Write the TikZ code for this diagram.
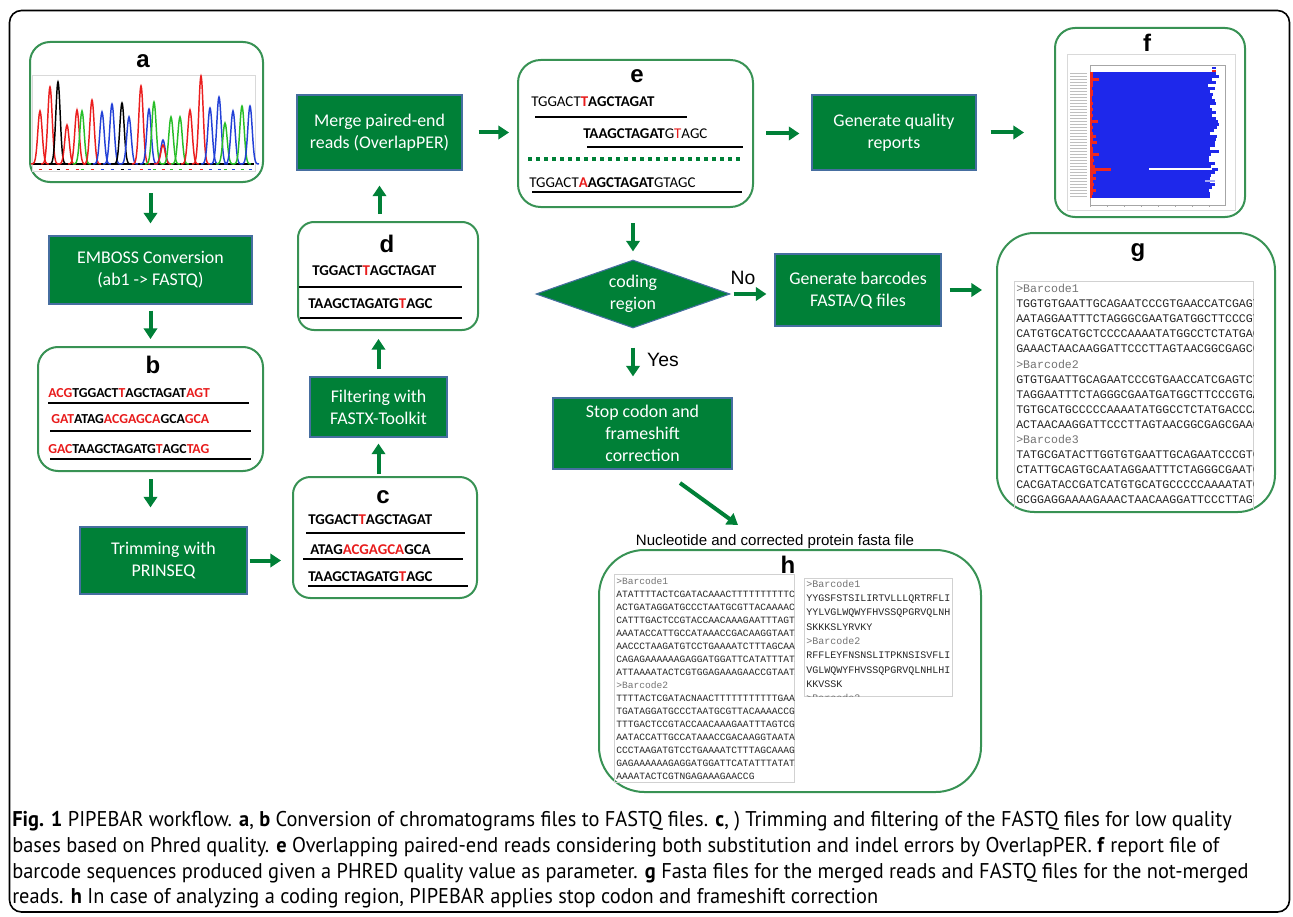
\documentclass[tikz,border=0pt]{standalone}
\usepackage{fontspec}
\setmainfont{Carlito}
\newfontfamily\arialf{Liberation Sans}
\newfontfamily\monof{Liberation Mono}
\newfontfamily\capf[FakeStretch=0.955]{PT Sans}
\usepackage{tikz}
\usetikzlibrary{positioning,arrows.meta,shapes.geometric}

\definecolor{pgreen}{RGB}{56,146,84}
\definecolor{boxgreen}{RGB}{0,128,55}
\definecolor{boxedge}{RGB}{70,110,160}
\definecolor{arrowgreen}{RGB}{0,128,55}
\definecolor{sred}{RGB}{232,28,28}
\definecolor{cred}{RGB}{235,30,30}
\definecolor{cgreen}{RGB}{40,190,40}
\definecolor{cblue}{RGB}{35,65,215}
\definecolor{fblue}{RGB}{30,40,235}
\definecolor{fred}{RGB}{240,40,30}

\newcommand{\rd}[1]{\textcolor{sred}{#1}}
\newcommand{\hd}[1]{\textcolor{black!55}{#1}}

\tikzset{
    panel/.style={draw=pgreen, line width=1.5pt, rounded corners=15pt, inner sep=0pt},
    stepbox/.style={draw=boxedge, line width=0.8pt, fill=boxgreen, text=white, align=center,
        inner sep=0pt, font=\fontsize{13.4}{16.5}\selectfont},
    decide/.style={diamond, draw=boxedge, line width=0.8pt, fill=boxgreen, text=white, align=center,
        inner sep=0pt, aspect=2.85, font=\fontsize{13.4}{16.5}\selectfont},
    flow/.style={draw=arrowgreen, line width=3pt, -{Triangle[width=10pt,length=8pt]}},
    lbl/.style={font=\arialf\bfseries\fontsize{18}{18}\selectfont, inner sep=0pt, anchor=base},
    seq/.style={inner sep=0pt, anchor=base west, font=\bfseries\fontsize{11.2}{12}\selectfont},
    uline/.style={line width=2.2pt},
    mono/.style={inner sep=0pt, anchor=base west, text=black!85},
    txtbox/.style={draw=black!18, line width=0.6pt},
    capline/.style={inner sep=0pt, anchor=base west, font=\capf\fontsize{16}{18}\selectfont},
    note/.style={inner sep=0pt, font=\arialf\fontsize{14.5}{16}\selectfont}
}

\begin{document}
\begin{tikzpicture}[x=0.75pt, y=-0.75pt]
    \useasboundingbox (0,0) rectangle (1293,917);
    \draw[line width=1.2pt, rounded corners=9pt] (9.5,10.5) rectangle (1289.5,912);

    % panels
    \node[panel, minimum width=174.75pt, minimum height=105pt] (pa) at (146.5,112) {};
    \node[panel, minimum width=168.75pt, minimum height=93pt] (pb) at (150.5,409) {};
    \node[panel, minimum width=138pt, minimum height=90.75pt, rounded corners=13pt] (pc) at (385,537.5) {};
    \node[panel, minimum width=135pt, minimum height=81pt, rounded corners=12pt] (pd) at (388,276) {};
    \node[panel, minimum width=176.25pt, minimum height=110.25pt, rounded corners=17pt] (pe) at (635.5,133.5) {};
    \node[panel, minimum width=142.5pt, minimum height=141.75pt] (pf) at (1150,122.5) {};
    \node[panel, minimum width=208.5pt, minimum height=209.25pt, rounded corners=28pt] (pg) at (1136,372.5) {};
    \node[panel, minimum width=286.5pt, minimum height=181.5pt, rounded corners=34pt] (ph) at (790,671) {};

    % process steps
    \node[stepbox, minimum width=152.25pt, minimum height=51pt] (emboss) at (150.5,270) {EMBOSS Conversion\\(ab1 -> FASTQ)};
    \node[stepbox, minimum width=125.25pt, minimum height=50.25pt] (trim) at (163.5,560.5) {Trimming with\\PRINSEQ};
    \node[stepbox, minimum width=102.75pt, minimum height=45pt] (filt) at (378.5,407) {Filtering with\\FASTX-Toolkit};
    \node[stepbox, minimum width=123.75pt, minimum height=56.25pt] (merge) at (379.5,132.5) {Merge paired-end\\reads (OverlapPER)};
    \node[stepbox, minimum width=123pt, minimum height=56.25pt] (qual) at (894,132.5) {Generate quality\\reports};
    \node[decide, minimum width=145.5pt, minimum height=51pt] (diam) at (633,294) {coding\\region};
    \node[stepbox, minimum width=124.5pt, minimum height=54pt] (barc) at (858,290) {Generate barcodes\\FASTA/Q files};
    \node[stepbox, minimum width=134.25pt, minimum height=53.25pt] (stop) at (642.5,433.5) {Stop codon and\\frameshift\\correction};

    % connectors
    \draw[flow, shorten <=7.5pt, shorten >=9pt] (pa.south -| emboss.north) -- (emboss.north);
    \draw[flow, shorten <=4.5pt, shorten >=5.25pt] (emboss.south) -- (emboss.south |- pb.north);
    \draw[flow, shorten <=5.25pt, shorten >=14.25pt] (pb.south) -- (pb.south |- trim.north);
    \draw[flow, shorten <=1.5pt, shorten >=8.25pt] (trim.east) -- (trim.east -| pc.west);
    \draw[flow, shorten <=1.5pt, shorten >=4.5pt] (pc.north -| filt.south) -- (filt.south);
    \draw[flow, shorten <=5.25pt, shorten >=6pt] (filt.north) -- (filt.north |- pd.south);
    \draw[flow, shorten <=5.25pt, shorten >=11.25pt] (pd.north -| merge.south) -- (merge.south);
    \draw[flow, shorten <=12pt, shorten >=6pt] (merge.east) -- (merge.east -| pe.west);
    \draw[flow, shorten <=9pt, shorten >=9pt] (pe.east) -- (pe.east -| qual.west);
    \draw[flow, shorten <=10.5pt, shorten >=22.5pt] (qual.east) -- (qual.east -| pf.west);
    \draw[flow, shorten <=11.25pt, shorten >=6pt] (pe.south -| diam.north) -- (diam.north);
    \draw[flow, shorten <=2.25pt, shorten >=6pt] (diam.east) -- (diam.east -| barc.west);
    \draw[flow, shorten <=6pt, shorten >=10.5pt] (barc.east) -- (barc.east -| pg.west);
    \draw[flow, shorten <=14.25pt, shorten >=15.75pt] (diam.south) -- (diam.south |- stop.north);
    \coordinate (hs) at (680,483);
    \coordinate (he) at (738,525);
    \draw[flow] (hs) -- (he);
    \node[note] (no) at (743,278) {No};
    \node[note] (yes) at (663,360) {Yes};

    % a: chromatogram
    \node[lbl] (la) at (143,68) {a};
    \draw[black!15] (32,75) rectangle (255,171);
    \draw[black, line width=0.8pt] (33,164) -- (254,164);
    \foreach \c/\m/\t in {cred/40/111, cred/50/87, black/58/82, cred/67/125, cred/77/110, cgreen/82/111,
        cred/92/100, cblue/102/112, cblue/112/104, black/122/103, cblue/129/117, cred/141/86,
        cblue/149/109, cgreen/154/102, cblue/163/140, cred/163/145, cgreen/171/117, cgreen/180/117,
        cred/190/110, cred/201/76, cblue/210/108, cblue/219/97, cgreen/225/123, cblue/233/111,
        cgreen/242/106, cblue/250/106} {
        \draw[\c, line width=1.1pt] plot[variable=\u, domain=-9:9, samples=31, smooth]
            ({\m+\u}, {164-(164-\t)*exp(-(\u/3.1)^2)});
        \draw[\c, line width=0.7pt] (\m-1.5,169) -- (\m+1.5,169);
    }

    % b
    \node[lbl] (lb) at (153,373) {b};
    \node[seq, font=\bfseries\fontsize{10.3}{12}\selectfont] (b1) at (48,397) {\rd{ACG}TGGACT\rd{T}AGCTAGAT\rd{AGT}};
    \node[seq, font=\bfseries\fontsize{10.3}{12}\selectfont] (b2) at (51,423) {\rd{GAT}ATAG\rd{ACGAGCA}GCA\rd{GCA}};
    \node[seq, font=\bfseries\fontsize{10.3}{12}\selectfont] (b3) at (48,453) {\rd{GAC}TAAGCTAGATG\rd{T}AGC\rd{TAG}};
    \draw[uline] (48,403) -- (249,403);
    \draw[uline] (50,431) -- (251,431);
    \draw[uline] (50,459) -- (251,459);

    % c
    \node[lbl] (lc) at (383,503) {c};
    \node[seq] (c1) at (308,524) {TGGACT\rd{T}AGCTAGAT};
    \node[seq] (c2) at (310,554) {ATAG\rd{ACGAGCA}GCA};
    \node[seq] (c3) at (308,581) {TAAGCTAGATG\rd{T}AGC};
    \draw[uline] (306,533) -- (465,533);
    \draw[uline] (303,559) -- (463,559);
    \draw[uline] (308,586) -- (468,586);

    % d
    \node[lbl] (ld) at (387,252) {d};
    \node[seq] (d1) at (312,275) {TGGACT\rd{T}AGCTAGAT};
    \node[seq] (d2) at (308,308) {TAAGCTAGATG\rd{T}AGC};
    \draw[uline] (299,287) -- (462,287);
    \draw[uline] (300,318) -- (462,318);

    % e
    \node[lbl] (le) at (637,83) {e};
    \node[seq, font=\fontsize{11.2}{12}\selectfont] (e1) at (531,107) {TGGACT\textbf{\rd{T}AGCTAGAT}};
    \node[seq, font=\fontsize{11.2}{12}\selectfont] (e2) at (583,138) {\textbf{TAAGCTAGAT}G\rd{T}AGC};
    \node[seq, font=\fontsize{11.2}{12}\selectfont] (e3) at (529,187) {TGGACT\textbf{\rd{A}AGCTAGAT}GTAGC};
    \draw[uline] (535,117) -- (687,117);
    \draw[uline] (587,147) -- (743,147);
    \draw[arrowgreen, line width=3pt, dash pattern=on 3pt off 3pt] (528,159) -- (742,159);
    \draw[uline] (532,192) -- (742,192);

    % f: quality report
    \node[lbl] (lf) at (1147,52) {f};
    \draw[black!15] (1067,54) rectangle (1235,210);
    \draw[black!35, line width=0.4pt] (1090,65) rectangle (1225,205);
    \pgfmathsetseed{11}
    \foreach \r [count=\i from 0] in {3,3,9,3,3,2,3,3,2,2,3,2,3,2,3,2,8,2,3,2,3,6,3,7,2,3,3,9,
        3,4,3,5,21,6,3,6,3,4,3,6,3,2} {
        \pgfmathsetmacro{\bl}{1208+12*rnd}
        \fill[fblue] (1090,72+3*\i) rectangle (\bl,74.7+3*\i);
        \fill[fred] (1090,72+3*\i) rectangle (1090+\r,74.7+3*\i);
        \draw[black!25, line width=0.3pt] (1070,73.3+3*\i) -- (1087,73.3+3*\i);
    }
    \fill[white] (1149,168.2) rectangle (1212,170.2);
    \fill[fblue!40] (1205,180) rectangle (1215,182);
    \fill[fblue] (1212,67) rectangle (1216,69);
    \fill[fred] (1212,70) rectangle (1216,72);
    \foreach \k in {0,...,7} \draw[black!35, line width=0.3pt] (1090+17*\k,205) -- (1090+17*\k,207);

    % g: barcode files
    \node[lbl] (lg) at (1138,256) {g};
    \draw[txtbox] (1014,509) -- (1014,281) -- (1253,281) -- (1253,509);
    \begin{scope}
        \clip (1014,281) rectangle (1253,511);
        \foreach \s [count=\i from 0] in {\hd{>Barcode1},
            TGGTGTGAATTGCAGAATCCCGTGAACCATCGAGT, AATAGGAATTTCTAGGGCGAATGATGGCTTCCCGT,
            CATGTGCATGCTCCCCAAAATATGGCCTCTATGAC, GAAACTAACAAGGATTCCCTTAGTAACGGCGAGCG,
            \hd{>Barcode2},
            GTGTGAATTGCAGAATCCCGTGAACCATCGAGTCT, TAGGAATTTCTAGGGCGAATGATGGCTTCCCGTGA,
            TGTGCATGCCCCCAAAATATGGCCTCTATGACCCA, ACTAACAAGGATTCCCTTAGTAACGGCGAGCGAAC,
            \hd{>Barcode3},
            TATGCGATACTTGGTGTGAATTGCAGAATCCCGTC, CTATTGCAGTGCAATAGGAATTTCTAGGGCGAATG,
            CACGATACCGATCATGTGCATGCCCCCAAAATATG, GCGGAGGAAAAGAAACTAACAAGGATTCCCTTAGT}
            \node[mono, font=\monof\fontsize{8.7}{9}\selectfont] (g\i) at (1016,292.5+15.1*\i) {\s};
    \end{scope}

    % h: corrected fasta
    \node[inner sep=0pt, font=\arialf\fontsize{11.3}{12}\selectfont] (nlab) at (775,542) {Nucleotide and corrected protein fasta file};
    \draw[txtbox] (614,574) rectangle (794,782);
    \draw[txtbox] (804,578) rectangle (952,696);
    \begin{scope}
        \clip (614,574) rectangle (794,782);
        \foreach \s [count=\i from 0] in {\hd{>Barcode1},
            ATATTTTACTCGATACAAACTTTTTTTTTTCG, ACTGATAGGATGCCCTAATGCGTTACAAAACC,
            CATTTGACTCCGTACCAACAAAGAATTTAGTC, AAATACCATTGCCATAAACCGACAAGGTAATA,
            AACCCTAAGATGTCCTGAAAATCTTTAGCAAA, CAGAGAAAAAAGAGGATGGATTCATATTTATA,
            ATTAAAATACTCGTGGAGAAAGAACCGTAATA,
            \hd{>Barcode2},
            TTTTACTCGATACNAACTTTTTTTTTTTGAAA, TGATAGGATGCCCTAATGCGTTACAAAACCGC,
            TTTGACTCCGTACCAACAAAGAATTTAGTCGC, AATACCATTGCCATAAACCGACAAGGTAATAT,
            CCCTAAGATGTCCTGAAAATCTTTAGCAAAGA, GAGAAAAAAGAGGATGGATTCATATTTATATA,
            AAAATACTCGTNGAGAAAGAACCG}
            \node[mono, font=\monof\fontsize{7.2}{8}\selectfont] (hn\i) at (616,584+13*\i) {\s};
    \end{scope}
    \begin{scope}
        \clip (804,578) rectangle (952,696);
        \foreach \s [count=\i from 0] in {\hd{>Barcode1},
            YYGSFSTSILIRTVLLLQRTRFLI, YYLVGLWQWYFHVSSQPGRVQLNH, SKKKSLYRVKY,
            \hd{>Barcode2},
            RFFLEYFNSNSLITPKNSISVFLI, VGLWQWYFHVSSQPGRVQLNHLHI, KKVSSK,
            \hd{>Barcode3}}
            \node[mono, font=\monof\fontsize{7.5}{8}\selectfont] (hp\i) at (806,587.3+14.3*\i) {\s};
    \end{scope}
    \node[lbl] (lh) at (788,573) {h};

    % caption
    \node[capline] (cap1) at (12,826) {\textbf{Fig. 1} PIPEBAR workflow. \textbf{a}, \textbf{b} Conversion of chromatograms files to FASTQ files. \textbf{c}, ) Trimming and filtering of the FASTQ files for low quality};
    \node[capline] (cap2) at (12,852) {bases based on Phred quality. \textbf{e} Overlapping paired-end reads considering both substitution and indel errors by OverlapPER. \textbf{f} report file of};
    \node[capline] (cap3) at (12,878) {barcode sequences produced given a PHRED quality value as parameter. \textbf{g} Fasta files for the merged reads and FASTQ files for the not-merged};
    \node[capline] (cap4) at (12,903) {reads. \textbf{h} In case of analyzing a coding region, PIPEBAR applies stop codon and frameshift correction};
\end{tikzpicture}
\end{document}
